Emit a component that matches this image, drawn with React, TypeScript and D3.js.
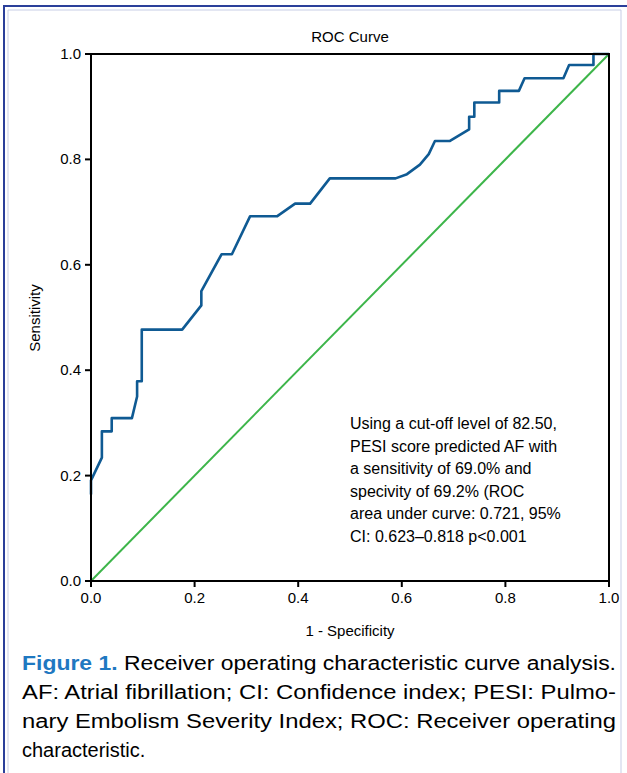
import * as d3 from 'd3';

const rocFpr = [0, 0, 0.021, 0.021, 0.04, 0.04, 0.079, 0.089, 0.089, 0.098, 0.098, 0.176, 0.213, 0.213, 0.252, 0.272, 0.307, 0.359, 0.394, 0.423, 0.461, 0.588, 0.61, 0.635, 0.652, 0.664, 0.693, 0.73, 0.73, 0.74, 0.74, 0.788, 0.788, 0.826, 0.837, 0.912, 0.923, 0.97, 0.97, 1];
const rocTpr = [0.164, 0.191, 0.234, 0.284, 0.284, 0.309, 0.309, 0.35, 0.379, 0.379, 0.477, 0.477, 0.523, 0.55, 0.62, 0.62, 0.692, 0.692, 0.716, 0.716, 0.764, 0.764, 0.772, 0.79, 0.81, 0.835, 0.835, 0.857, 0.881, 0.881, 0.908, 0.908, 0.93, 0.93, 0.954, 0.954, 0.979, 0.979, 1, 1];
const ticks = [0, 0.2, 0.4, 0.6, 0.8, 1.0];
const note = ['Using a cut-off level of 82.50,', 'PESI score predicted AF with', 'a sensitivity of 69.0% and', 'specivity of 69.2% (ROC', 'area under curve: 0.721, 95%', 'CI: 0.623–0.818 p<0.001'];

export default function App() {
  const x = d3.scaleLinear().domain([0, 1]).range([91, 609]);
  const y = d3.scaleLinear().domain([0, 1]).range([581, 54]);
  const line = d3.line<number>().x((d) => x(d)).y((_, i) => y(rocTpr[i]));
  const font = 'Helvetica, Arial, "Liberation Sans", sans-serif';
  return (
    <svg width={627} height={773} style={{ position: 'absolute', left: 0, top: 0, background: '#fff' }} fontFamily={font}>
      <rect x={0} y={0} width={627} height={773} fill="#fff" />
      <path d="M4,773 V6 H627" fill="none" stroke="#2b3f9a" strokeWidth={2} />
      <path d="M8,773 V10 H621 V773" fill="none" stroke="#c7cde6" strokeWidth={1} />
      <text x={350} y={42} textAnchor="middle" fontSize={15}>ROC Curve</text>
      <line x1={x(0)} y1={y(0)} x2={x(1)} y2={y(1)} stroke="#3db54a" strokeWidth={2} />
      <path d={line(rocFpr) || ''} fill="none" stroke="#0f5a93" strokeWidth={2.6} strokeLinejoin="round" />
      <rect x={x(0)} y={y(1)} width={x(1) - x(0)} height={y(0) - y(1)} fill="none" stroke="#000" strokeWidth={2} />
      {ticks.map((t) => (
        <g key={t}>
          <line x1={x(t)} x2={x(t)} y1={y(0)} y2={y(0) + 6} stroke="#000" strokeWidth={2} />
          <text x={x(t)} y={y(0) + 22} textAnchor="middle" fontSize={15}>{t.toFixed(1)}</text>
          <line x1={x(0) - 6} x2={x(0)} y1={y(t)} y2={y(t)} stroke="#000" strokeWidth={2} />
          <text x={x(0) - 10} y={y(t) + 5} textAnchor="end" fontSize={15}>{t.toFixed(1)}</text>
        </g>
      ))}
      <text x={350} y={636} textAnchor="middle" fontSize={15}>1 - Specificity</text>
      <text transform="translate(40,318) rotate(-90)" textAnchor="middle" fontSize={15}>Sensitivity</text>
      {note.map((s, i) => (
        <text key={i} x={350} y={429 + i * 22.5} fontSize={16}>{s}</text>
      ))}
      <g fontSize={20}>
        <text x={22} y={670} textLength={594} lengthAdjust="spacingAndGlyphs"><tspan fill="#1f78c1" fontWeight="bold">Figure 1.</tspan> Receiver operating characteristic curve analysis.</text>
        <text x={22} y={699} textLength={594} lengthAdjust="spacingAndGlyphs">AF: Atrial fibrillation; CI: Confidence index; PESI: Pulmo-</text>
        <text x={22} y={728} textLength={594} lengthAdjust="spacingAndGlyphs">nary Embolism Severity Index; ROC: Receiver operating</text>
        <text x={22} y={757}>characteristic.</text>
      </g>
    </svg>
  );
}
